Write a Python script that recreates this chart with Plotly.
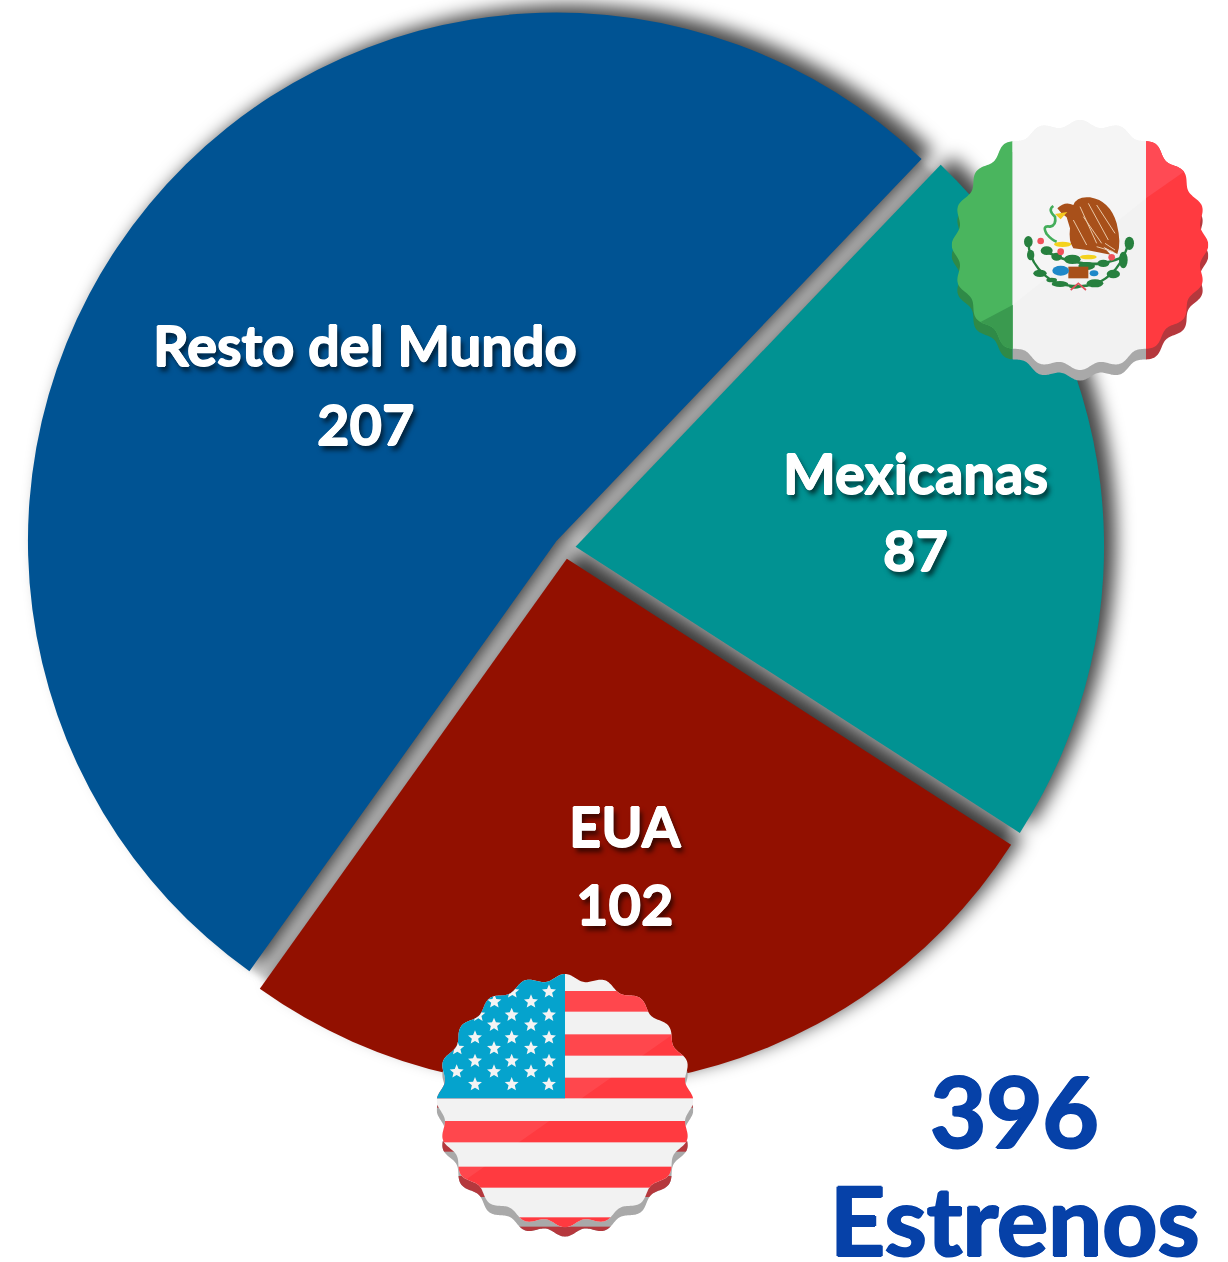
import base64, math
import plotly.graph_objects as go

# ---------- data ----------
categories = ["Mexicanas", "EUA", "Resto del Mundo"]
values = [87, 102, 207]
slice_colors = ["#019292", "#921000", "#005393"]
total_value = "396"
total_label = "Estrenos"

W, H = 1228, 1262
CX, CY, R = 564.8, 548.0, 528.5
PULL = 0.0205
ROT = 43.7
name_pos = [(915, 472), (625, 825), (365, 344.5)]
value_pos = [(915, 549), (624, 903), (365, 423)]


def uri(svg):
    return "data:image/svg+xml;base64," + base64.b64encode(svg.encode()).decode()


# ---------- soft drop shadow, built from the slice values ----------
def shadow_svg():
    parts, a = [], ROT
    tot = sum(values)
    for v in values:
        b = a + v / tot * 360
        m = math.radians((a + b) / 2)
        ox, oy = CX + PULL * R * math.sin(m), CY - PULL * R * math.cos(m)
        ra, rb = math.radians(a), math.radians(b)
        x1, y1 = ox + R * math.sin(ra), oy - R * math.cos(ra)
        x2, y2 = ox + R * math.sin(rb), oy - R * math.cos(rb)
        large = 1 if b - a > 180 else 0
        parts.append(f'<path d="M{ox:.1f} {oy:.1f}L{x1:.1f} {y1:.1f}A{R} {R} 0 {large} 1 {x2:.1f} {y2:.1f}Z"/>')
        a = b
    return (f'<svg xmlns="http://www.w3.org/2000/svg" width="{W}" height="{H}" viewBox="0 0 {W} {H}">'
            '<defs><filter id="b" x="-10%" y="-10%" width="120%" height="120%"><feGaussianBlur stdDeviation="9"/></filter>'
            '<filter id="c" x="-10%" y="-10%" width="120%" height="120%"><feGaussianBlur stdDeviation="3"/></filter></defs>'
            f'<circle cx="{CX}" cy="{CY}" r="{R - 3}" fill="#cccccc" filter="url(#c)"/>'
            f'<g filter="url(#b)" fill="#000" fill-opacity="0.72" transform="translate(12,-8)">{"".join(parts)}</g></svg>')


# ---------- scalloped badges (drawn in a 840x840 box) ----------
def scallop(cx, cy, rx, ry, amp, n=20):
    pts = []
    for i in range(720):
        t = math.radians(i / 2)
        k = 1 - amp * (1 - math.cos(n * t)) / 2 / rx
        pts.append(f"{cx + rx * k * math.cos(t):.1f},{cy + ry * k * math.sin(t):.1f}")
    return " ".join(pts)


def badge(top_y, ry, shift, base_art, top_art):
    cy = top_y + ry
    surface = scallop(420, cy, 385, ry, 20)
    lower = scallop(420, cy + shift, 385, ry, 20)
    return (f'<svg xmlns="http://www.w3.org/2000/svg" width="840" height="840" viewBox="0 0 840 840"><defs>'
            f'<clipPath id="o"><polygon points="{lower}"/></clipPath>'
            f'<clipPath id="l"><polygon points="{surface}"/></clipPath></defs>'
            f'<g clip-path="url(#o)">{base_art}</g><g clip-path="url(#l)">{top_art}</g></svg>')


def star(cx, cy, r=22):
    pts = []
    for i in range(10):
        rr = r if i % 2 == 0 else r * 0.45
        t = math.radians(-90 + i * 36)
        pts.append(f"{cx + rr * math.cos(t):.1f},{cy + rr * math.sin(t):.1f}")
    return f'<polygon fill="#f4f4f4" points="{" ".join(pts)}"/>'


def mexico_svg():
    base = ('<rect width="218" height="840" fill="#2f8a47"/><rect x="218" width="400" height="840" fill="#a9a9a9"/>'
            '<rect x="618" width="222" height="840" fill="#b5383d"/>')
    ell = [(265, 395, 13, 17), (272, 435, 11, 16), (300, 490, 20, 11), (320, 422, 18, 13), (350, 440, 16, 12),
           (397, 448, 25, 14), (440, 468, 25, 12), (490, 460, 18, 11), (520, 492, 20, 13), (550, 450, 13, 25),
           (568, 400, 14, 20), (465, 520, 25, 12), (360, 522, 25, 9), (335, 510, 16, 7), (405, 530, 18, 6)]
    wreath = "".join(f'<ellipse cx="{x}" cy="{y}" rx="{a}" ry="{b}" fill="#27803f"/>' for x, y, a, b in ell)
    wreath += ('<path d="M265 400Q270 470 340 515Q410 540 470 520Q540 490 565 400" fill="none" stroke="#27803f" stroke-width="7"/>'
               '<path d="M310 420Q400 470 490 460Q530 450 550 440" fill="none" stroke="#27803f" stroke-width="8"/>')
    feathers = "".join(f'<path d="M{x} {y}L{u} {v}" stroke="#e9c7a6" stroke-width="3"/>' for x, y, u, v in
                       [(420, 290, 470, 400), (445, 280, 505, 390), (470, 285, 525, 370), (400, 330, 440, 405),
                        (495, 400, 525, 420), (470, 410, 520, 425), (430, 320, 485, 400)])
    top = ('<rect width="218" height="840" fill="#4ab55e"/><rect x="218" width="400" height="840" fill="#f2f2f2"/>'
           '<rect x="618" width="222" height="840" fill="#ff3a40"/>'
           '<polygon points="0,700 218,585 218,840 0,840" fill="#3a9a4f"/>'
           '<polygon points="618,265 840,110 840,0 618,0" fill="#ff4a54"/>'
           '<polygon points="218,0 618,0 618,265 218,585" fill="#f5f5f5"/>'
           + wreath +
           '<path d="M352 295Q375 272 400 285Q410 258 450 262Q510 272 530 340Q545 400 532 432L490 410L512 434L440 420L400 415Q385 395 390 355L380 322Q362 310 352 295Z" fill="#a8501a"/>'
           + feathers +
           '<path d="M345 312L382 306L362 328Z" fill="#f4c81e"/>'
           '<path d="M340 288Q322 300 345 320Q350 345 330 350Q305 345 320 372Q335 390 350 395" fill="none" stroke="#43ad5a" stroke-width="8"/>'
           '<ellipse cx="368" cy="403" rx="26" ry="8" fill="#f4d21e"/><ellipse cx="445" cy="441" rx="25" ry="7" fill="#f4d21e"/>'
           '<rect x="385" y="470" width="60" height="35" fill="#a8501a"/>'
           '<ellipse cx="362" cy="482" rx="25" ry="15" fill="#1e88c8"/><ellipse cx="462" cy="490" rx="13" ry="9" fill="#1e88c8"/>'
           '<circle cx="302" cy="393" r="10" fill="#f0505a"/><circle cx="362" cy="425" r="10" fill="#f0505a"/><circle cx="515" cy="442" r="10" fill="#f0505a"/>'
           '<path d="M392 540L415 520L438 540" fill="none" stroke="#e0505a" stroke-width="5"/>')
    return badge(30, 375, 32, base, top)


def usa_svg():
    red_bands = [(78, 140), (208, 272), (338, 400), (468, 532), (605, 668), (757, 840)]
    base = ('<rect width="840" height="840" fill="#a9a9a9"/>'
            + "".join(f'<rect y="{a + 28}" width="840" height="{b - a}" fill="#b5383d"/>' for a, b in red_bands))
    top = '<rect width="840" height="840" fill="#f2f2f2"/>'
    top += "".join(f'<rect y="{a}" width="840" height="{b - a}" fill="#ff3a40"/>' for a, b in red_bands)
    top += '<polygon points="0,0 840,0 840,140 0,730" fill="#ffffff" fill-opacity="0.07"/>'
    top += '<rect width="420" height="400" fill="#05a3cd"/>'
    rows = [(80, [372, 262]), (110, [318, 208]), (150, [372, 260, 160]), (180, [318, 207]),
            (218, [372, 260, 150]), (250, [318, 207, 97]), (288, [372, 260, 150]),
            (320, [318, 207, 95]), (358, [372, 260, 150])]
    for y, xs in rows:
        for x in xs:
            top += star(x, y)
    return badge(27, 380, 28, base, top)


def img(src, x, y, w, h, layer="above"):
    return dict(source=uri(src), xref="paper", yref="paper", x=x / W, y=1 - y / H,
                sizex=w / W, sizey=h / H, xanchor="left", yanchor="top", sizing="stretch", layer=layer)


# ---------- figure ----------
half = R * (1 + PULL)
fig = go.Figure(go.Pie(
    labels=categories, values=values, sort=False, direction="clockwise", rotation=ROT,
    pull=[PULL] * 3, marker=dict(colors=slice_colors, line=dict(width=0)),
    textinfo="none", hoverinfo="label+value", showlegend=False,
    domain=dict(x=[(CX - half) / W, (CX + half) / W], y=[1 - (CY + half) / H, 1 - (CY - half) / H]),
))


def note(text, x, y, size, color, shadow):
    return dict(text=text, x=x / W, y=1 - y / H, xref="paper", yref="paper",
                xanchor="center", yanchor="middle", showarrow=False, align="center",
                font=dict(family="Lato", size=size, color=color, weight=700, shadow=shadow))


label_shadow = ("0.8px 0 0 #fff, -0.8px 0 0 #fff, 0 0.6px 0 #fff, 0 -0.6px 0 #fff, "
                "3px 5px 5px rgba(0,0,0,0.65)")
total_shadow = "1.2px 0 0 #0641a8, -1.2px 0 0 #0641a8, 0 1px 0 #0641a8, 0 -1px 0 #0641a8"

annotations = []
for cat, val, np_, vp in zip(categories, values, name_pos, value_pos):
    annotations.append(note(cat, np_[0], np_[1], 56, "white", label_shadow))
    annotations.append(note(str(val), vp[0], vp[1], 56, "white", label_shadow))
annotations.append(note(total_value, 1014, 1110, 97, "#0641a8", total_shadow))
annotations.append(note(total_label, 1015, 1218, 96, "#0641a8", total_shadow))

fig.update_layout(
    width=W, height=H, margin=dict(l=0, r=0, t=0, b=0, pad=0),
    paper_bgcolor="white", plot_bgcolor="white", autosize=False,
    annotations=annotations,
    images=[img(shadow_svg(), 0, 0, W, H, layer="below"),
            img(mexico_svg(), 940, 110, 280, 280),
            img(usa_svg(), 425, 965, 280, 280)],
)
fig.write_html("out.html", config=dict(displayModeBar=False),
               post_script="document.body.style.margin='0';document.body.style.overflow='hidden';")
